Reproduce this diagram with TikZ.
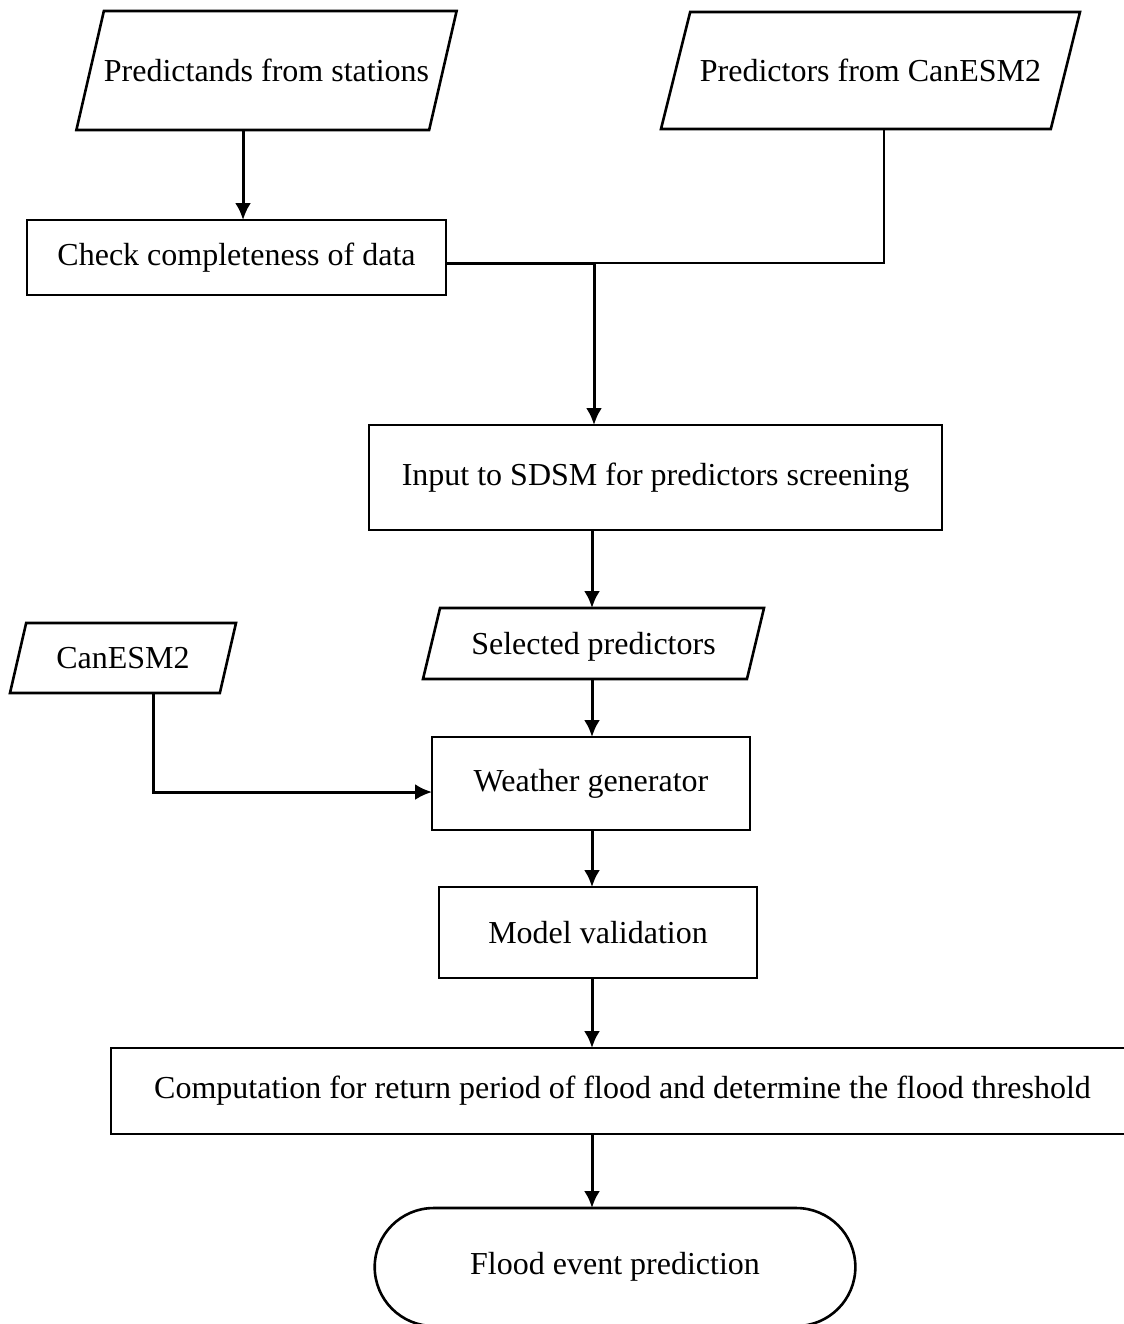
\documentclass[tikz,border=0pt]{standalone}
\usepackage{fontspec}
\setmainfont{Liberation Serif}
\usetikzlibrary{positioning, arrows.meta, shapes.geometric, shapes.misc, calc}

\begin{document}
\begin{tikzpicture}[
  node distance=40pt,
  every node/.style={font=\fontsize{16}{19}\selectfont, outer sep=0pt},
  box/.style={draw, rectangle, line width=1.3pt, inner sep=2pt},
  data/.style={draw, trapezium, trapezium left angle=77, trapezium right angle=103,
    trapezium stretches body, line width=1.3pt, inner xsep=0pt, text height=12.5pt, text depth=2pt},
  term/.style={draw, rounded rectangle, line width=1.3pt},
  arrow/.style={->, >={Latex[length=8.5pt, width=8pt]}, line width=1.5pt},
  thinlink/.style={line width=0.6pt}
]

\useasboundingbox (0,0) rectangle (562pt,-662pt);

% Nodes
\node[data, minimum width=187.5pt, inner ysep=22.5pt] (pred_st) at (133.25pt,-35.25pt) {Predictands from stations};
\node[data, trapezium left angle=76, trapezium right angle=104, minimum width=209.5pt, inner ysep=22pt] (pred_can) at (435.25pt,-35.25pt) {Predictors from CanESM2};
\node[box, minimum width=209.5pt, minimum height=37.5pt, below=45pt of pred_st, xshift=-15pt] (check) {Check completeness of data};
\node[box, minimum width=286.5pt, minimum height=52.5pt, below=65pt of check, xshift=209.5pt] (sdsm) {Input to SDSM for predictors screening};
\node[data, trapezium left angle=76.5, trapezium right angle=103.5, minimum width=170.5pt, inner ysep=10.5pt, below=39pt of sdsm, xshift=-31pt] (selected) {Selected predictors};
\node[data, minimum width=113pt, inner ysep=10.25pt] (canesm) at (61.5pt,-329pt) {CanESM2};
\node[box, minimum width=159pt, minimum height=46.5pt, below=29pt of selected, xshift=-1.25pt] (weather) {Weather generator};
\node[box, minimum width=159pt, minimum height=45.5pt, below=28.5pt of weather, xshift=3.5pt] (model) {Model validation};
\node[box, minimum width=511.5pt, minimum height=43pt, below=35pt of model, xshift=12.25pt] (comp) {Computation for return period of flood and determine the flood threshold};
\node[term, minimum width=247pt, minimum height=59pt, below=37pt of comp, xshift=-3.75pt] (flood) {Flood event prediction};

% Joints
\coordinate (in_check) at ([xshift=3.25pt]check.north);
\coordinate (merge) at (297pt,-131.5pt);
\coordinate (spine) at (296pt,0);

% Arrows
\draw[arrow] (in_check |- pred_st.south) -- (in_check);
\draw[thinlink] ([xshift=6.75pt]pred_can.south) |- (merge);
\draw[arrow] (check.east |- merge) -| (sdsm.north -| merge);
\draw[arrow] (spine |- sdsm.south) -- (spine |- selected.north);
\draw[arrow] (spine |- selected.south) -- (spine |- weather.north);
\draw[arrow] ([xshift=15pt]canesm.south) |- ([yshift=-4.25pt]weather.west);
\draw[arrow] (spine |- weather.south) -- (spine |- model.north);
\draw[arrow] (spine |- model.south) -- (spine |- comp.north);
\draw[arrow] (spine |- comp.south) -- (spine |- flood.north);

\end{tikzpicture}
\end{document}
